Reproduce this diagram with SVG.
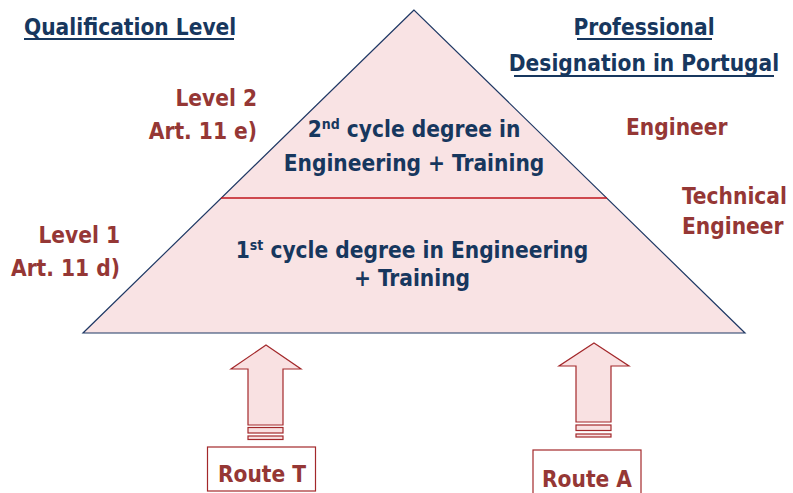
<svg xmlns="http://www.w3.org/2000/svg" width="793" height="493" viewBox="0 0 793 493">
<style>
text{font-family:"DejaVu Sans Condensed","DejaVu Sans","Liberation Sans",sans-serif;font-stretch:condensed;font-weight:bold;font-size:22.5px}
.b{fill:#17375e}
.r{fill:#953735}
.sup{font-size:14px}
.ul{stroke:#17375e;stroke-width:2}
.arrow{fill:#f9e1e2;stroke:#a3282b;stroke-width:1.2}
.box{fill:#ffffff;stroke:#a3282b;stroke-width:1.2}
</style>
<rect width="793" height="493" fill="#ffffff"/>
<g id="pyramid">
<polygon points="414,10 83,333 745,333" fill="#f9e3e4" stroke="#1f3864" stroke-width="1.2"/>
<line x1="221" y1="198" x2="607" y2="198" stroke="#c0141c" stroke-width="1.3"/>
<text class="b" x="414" y="137" text-anchor="middle">2<tspan class="sup" dy="-8">nd</tspan><tspan dy="8"> cycle degree in</tspan></text>
<text class="b" x="414" y="171" text-anchor="middle">Engineering + Training</text>
<text class="b" x="412" y="258" text-anchor="middle">1<tspan class="sup" dy="-8">st</tspan><tspan dy="8"> cycle degree in Engineering</tspan></text>
<text class="b" x="412" y="286" text-anchor="middle">+ Training</text>
</g>
<g id="headings">
<text class="b" x="24" y="35">Qualification Level</text>
<line class="ul" x1="24" y1="39" x2="234" y2="39"/>
<text class="b" x="644" y="35" text-anchor="middle">Professional</text>
<line class="ul" x1="577" y1="39" x2="712" y2="39"/>
<text class="b" x="644" y="71" text-anchor="middle">Designation in Portugal</text>
<line class="ul" x1="514" y1="76" x2="774" y2="76"/>
</g>
<g id="level2">
<text class="r" x="257" y="106" text-anchor="end">Level 2</text>
<text class="r" x="257" y="139" text-anchor="end">Art. 11 e)</text>
</g>
<g id="level1">
<text class="r" x="120" y="243" text-anchor="end">Level 1</text>
<text class="r" x="120" y="276" text-anchor="end">Art. 11 d)</text>
</g>
<g id="engineer">
<text class="r" x="626" y="135">Engineer</text>
</g>
<g id="technical-engineer">
<text class="r" x="682" y="204">Technical</text>
<text class="r" x="682" y="234">Engineer</text>
</g>
<g id="connectors">
<polygon class="arrow" points="266,345 301,369 283,369 283,425 248,425 248,369 231,369"/>
<rect class="arrow" x="248" y="427.5" width="35" height="5.5"/>
<rect class="arrow" x="248" y="436" width="35" height="3.5"/>
<polygon class="arrow" points="594,343 629,366 611,366 611,422 576,422 576,366 559,366"/>
<rect class="arrow" x="576" y="425" width="35" height="5.5"/>
<rect class="arrow" x="576" y="434" width="35" height="3"/>
</g>
<g id="routeT">
<rect class="box" x="207.5" y="447" width="108" height="44"/>
<text class="r" x="262" y="482" text-anchor="middle">Route T</text>
</g>
<g id="routeA">
<rect class="box" x="533" y="450" width="108" height="48"/>
<text class="r" x="587" y="487" text-anchor="middle">Route A</text>
</g>
</svg>
